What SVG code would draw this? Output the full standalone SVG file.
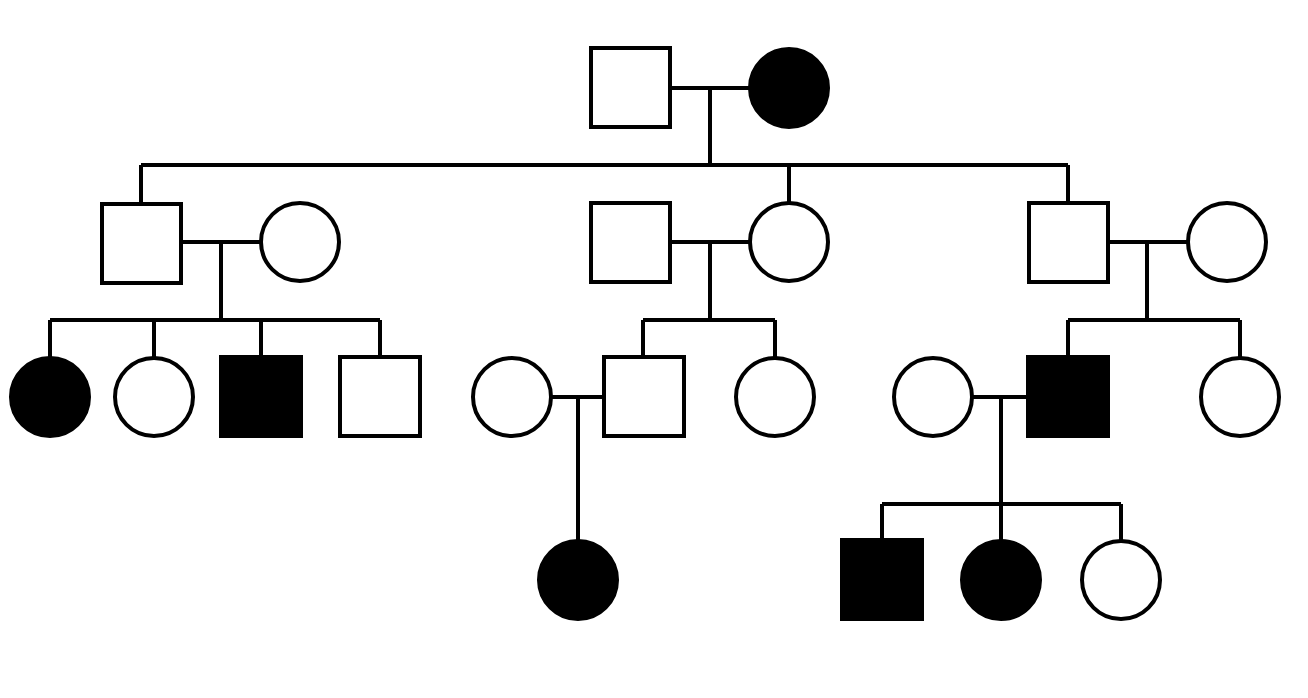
<svg xmlns="http://www.w3.org/2000/svg" width="1308" height="698" viewBox="0 0 1308 698">
<style>
.o{fill:#fff;stroke:#000;stroke-width:4}
.f{fill:#000;stroke:#000;stroke-width:4}
.c{fill:none;stroke:#000;stroke-width:4}
</style>
<rect width="1308" height="698" fill="#fff"/>
<g id="connectors" class="c">
<path d="M670 88H749M710 88V165M141 165H1068M141 165V204M789 165V203M1068 165V203"/>
<path d="M181 242H261M221 242V320M50 320H380M50 320V357M154 320V357M261 320V357M380 320V357"/>
<path d="M670 242H750M710 242V320M643 320H775M643 320V357M775 320V357"/>
<path d="M1108 242H1188M1147 242V320M1068 320H1240M1068 320V357M1240 320V357"/>
<path d="M552 397H604M578 397V540"/>
<path d="M973 397H1028M1001 397V540M882 504H1121M882 504V540M1121 504V540"/>
</g>
<g id="g1m"><rect class="o" x="591" y="48" width="79" height="79"/></g>
<g id="g1f"><circle class="f" cx="789" cy="88" r="39"/></g>
<g id="g2a"><rect class="o" x="102" y="204" width="79" height="79"/></g>
<g id="g2aw"><circle class="o" cx="300" cy="242" r="39"/></g>
<g id="g2bh"><rect class="o" x="591" y="203" width="79" height="79"/></g>
<g id="g2b"><circle class="o" cx="789" cy="242" r="39"/></g>
<g id="g2c"><rect class="o" x="1029" y="203" width="79" height="79"/></g>
<g id="g2cw"><circle class="o" cx="1227" cy="242" r="39"/></g>
<g id="g3a"><circle class="f" cx="50" cy="397" r="39"/></g>
<g id="g3b"><circle class="o" cx="154" cy="397" r="39"/></g>
<g id="g3c"><rect class="f" x="221" y="357" width="80" height="79"/></g>
<g id="g3d"><rect class="o" x="340" y="357" width="80" height="79"/></g>
<g id="g3ew"><circle class="o" cx="512" cy="397" r="39"/></g>
<g id="g3e"><rect class="o" x="604" y="357" width="80" height="79"/></g>
<g id="g3f"><circle class="o" cx="775" cy="397" r="39"/></g>
<g id="g3gw"><circle class="o" cx="933" cy="397" r="39"/></g>
<g id="g3g"><rect class="f" x="1028" y="357" width="80" height="79"/></g>
<g id="g3h"><circle class="o" cx="1240" cy="397" r="39"/></g>
<g id="g4a"><circle class="f" cx="578" cy="580" r="39"/></g>
<g id="g4b"><rect class="f" x="842" y="540" width="80" height="79"/></g>
<g id="g4c"><circle class="f" cx="1001" cy="580" r="39"/></g>
<g id="g4d"><circle class="o" cx="1121" cy="580" r="39"/></g>
</svg>
